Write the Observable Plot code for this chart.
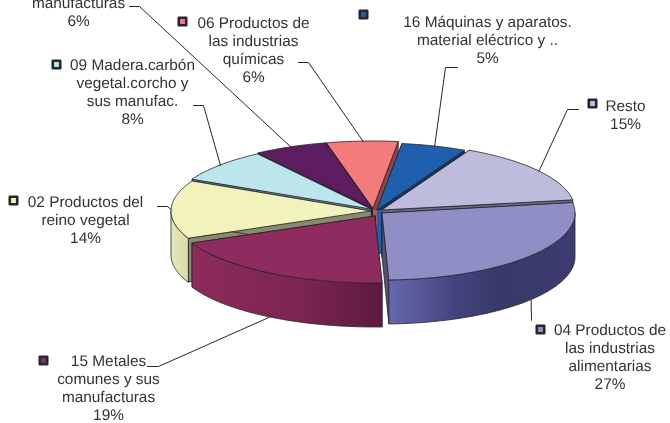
<!DOCTYPE html>
<html>
<head>
<meta charset="utf-8">
<style>
html,body{margin:0;padding:0;background:#fff}
svg{display:block;filter:blur(0.35px);text-rendering:geometricPrecision}
</style>
<script src="https://cdn.jsdelivr.net/npm/d3@7"></script>
<script src="https://cdn.jsdelivr.net/npm/@observablehq/plot@0.6"></script>
</head>
<body>
<div id="chart"></div>
<script>
// ---- data, clockwise from the 06/16 boundary
const names = [
  "16 Máquinas y aparatos.\nmaterial eléctrico y ..",
  "Resto",
  "04 Productos de\nlas industrias\nalimentarias",
  "15 Metales\ncomunes y sus\nmanufacturas",
  "02 Productos del\nreino vegetal",
  "09 Madera.carbón\nvegetal.corcho y\nsus manufac.",
  "manufacturas",
  "06 Productos de\nlas industrias\nquímicas"
];
const shares = [5.4, 15.1, 26.85, 18.95, 14, 8, 5.9, 5.8];
const colors = ["#1f5fae", "#bdbcdc", "#8f8fc6", "#8e2b5f", "#f2f2bd", "#bde5ec", "#5e1d60", "#f47a7c"];
const wallFills = [null, null, "url(#wall04)", "url(#wall15)", "url(#wall02)", null, null, null];

// ---- layout of the pseudo-3D pie
const firstAngle = 7.5, cx = 373, cy = 210, rxLeft = 200, rxRight = 193, ry = 67, depth = 44;
const shiftX = [4, 9, 9, 2, -2, -2, -1, 0];
const shiftY = [0, 0, 3, 6, 1, -1, -2, -2];
// label layout: centre x, last baseline y, marker x,y (or null), leader knee points
const labelX = [487, 625, 609.5, 108, 85, 132, 78, 253];
const labelY = [62, 128, 388, 419, 242, 123, 25, 81];
const markerX = [363, 592, 540, 43, 13, 56, null, 182];
const markerY = [14, 103, 329, 360, 200, 64, null, 21];
const kneeA = [[457, 67], [578, 109], [531, 320], [147, 366], [157, 206], [193, 105], [129, 6], [298, 62]];
const kneeB = [[445, 67], [567, 109], [531, 320], [158, 366], [167, 206], [203, 105], [139, 6], [308, 62]];

const rad = (d) => d * Math.PI / 180;
let acc = firstAngle;
const slices = names.map((name, i) => {
  const a0 = acc, a1 = acc + shares[i] * 3.6;
  acc = a1;
  return {i, name, a0, a1, mid: (a0 + a1) / 2, tx: cx + shiftX[i], ty: cy + shiftY[i], color: colors[i], wall: wallFills[i] || colors[i]};
});
function pt(s, a, dz = 0) {
  const sn = Math.sin(rad(a)), cs = Math.cos(rad(a));
  return {x: s.tx + sn * (sn > 0 ? rxRight : rxLeft), y: s.ty - cs * ry + dz};
}
function arcAngles(a0, a1) {
  const n = Math.max(2, Math.ceil((a1 - a0) / 1.5));
  return d3.range(n + 1).map((k) => a0 + (a1 - a0) * k / n);
}
const edge = {stroke: "#26262e", strokeWidth: 0.8, strokeLinejoin: "round"};

function faceMark(s, a) {
  const p = pt(s, a);
  const rows = [
    {x1: s.tx, y1: s.ty, x2: s.tx, y2: s.ty + depth},
    {x1: p.x, y1: p.y, x2: p.x, y2: p.y + depth}
  ];
  return Plot.area(rows, {x1: "x1", y1: "y1", x2: "x2", y2: "y2", fill: d3.color(s.color).darker(1.6).formatHex(), ...edge});
}
function wallMark(s) {
  const lo = Math.max(s.a0, 90), hi = Math.min(s.a1, 270);
  if (hi <= lo) return [];
  const rows = arcAngles(lo, hi).map((a) => {
    const p = pt(s, a);
    return {x1: p.x, y1: p.y, x2: p.x, y2: p.y + depth};
  });
  return [Plot.area(rows, {x1: "x1", y1: "y1", x2: "x2", y2: "y2", fill: s.wall, ...edge})];
}
function topMark(s) {
  const rows = arcAngles(s.a0, s.a1).map((a) => {
    const p = pt(s, a);
    return {x1: s.tx, y1: s.ty, x2: p.x, y2: p.y};
  });
  return Plot.area(rows, {x1: "x1", y1: "y1", x2: "x2", y2: "y2", fill: s.color, ...edge});
}
function sliceMarks(s) {
  return [faceMark(s, s.a0), faceMark(s, s.a1), ...wallMark(s), topMark(s)];
}
function hubMark(color, x0, x1) {
  const rows = [{x: x0, y1: cy, y2: cy + depth}, {x: x1, y1: cy, y2: cy + depth}];
  return Plot.area(rows, {x1: "x", x2: "x", y1: "y1", y2: "y2", fill: color});
}

const order = slices.slice().sort((a, b) => Math.cos(rad(b.mid)) - Math.cos(rad(a.mid)));
const back = order.filter((s) => s.i !== 2 && s.i !== 3);
const front = order.filter((s) => s.i === 2 || s.i === 3);

const defs = () => {
  const d = d3.create("svg:defs");
  const grad = (id, stops) => {
    const g = d.append("linearGradient").attr("id", id);
    stops.forEach(([o, c]) => g.append("stop").attr("offset", o).attr("stop-color", c));
  };
  grad("wall04", [[0, "#6668ae"], [0.35, "#44457f"], [0.6, "#38386a"], [1, "#3c3c70"]]);
  grad("wall15", [[0, "#8c2b5c"], [0.55, "#7d2552"], [1, "#5e1a3e"]]);
  grad("wall02", [[0, "#e6e6b6"], [1, "#dcdcaa"]]);
  return d.node();
};

const leaders = slices.flatMap((s) => {
  const frontSide = Math.cos(rad(s.mid)) < -0.3;
  const end = pt(s, s.mid, frontSide ? depth : 0);
  return [
    {k: s.i, x: kneeA[s.i][0], y: kneeA[s.i][1]},
    {k: s.i, x: kneeB[s.i][0], y: kneeB[s.i][1]},
    {k: s.i, x: end.x, y: end.y}
  ];
});
const labels = slices.map((s) => ({
  x: labelX[s.i], y: labelY[s.i],
  text: s.name + "\n" + d3.format(".0f")(shares[s.i]) + "%"
}));
const markers = slices.filter((s) => markerX[s.i] != null).map((s) => ({x: markerX[s.i], y: markerY[s.i], color: s.color}));

const chart = Plot.plot({
  width: 670,
  height: 423,
  margin: 0,
  x: {domain: [0, 670], range: [0, 670], axis: null},
  y: {domain: [0, 423], range: [0, 423], axis: null},
  marks: [
    defs,
    ...back.flatMap(sliceMarks),
    hubMark(d3.color(colors[7]).darker(0.9).formatHex(), cx, cx + 4),
    hubMark(colors[0], cx + 4, cx + 9),
    ...front.flatMap(sliceMarks),
    Plot.line(leaders, {x: "x", y: "y", z: "k", stroke: "#26262e", strokeWidth: 1, curve: "linear"}),
    Plot.dot(markers, {x: "x", y: "y", symbol: "square", r: 4.2, fill: "color", stroke: "#26262e", strokeWidth: 2.6, strokeLinejoin: "round"}),
    Plot.text(labels, {
      x: "x", y: "y", text: "text", textAnchor: "middle", lineAnchor: "bottom",
      lineHeight: 1.165, fontSize: 15.4, fontFamily: "Liberation Sans", fill: "#333333"
    })
  ]
});
document.getElementById("chart").append(chart);
</script>
</body>
</html>
